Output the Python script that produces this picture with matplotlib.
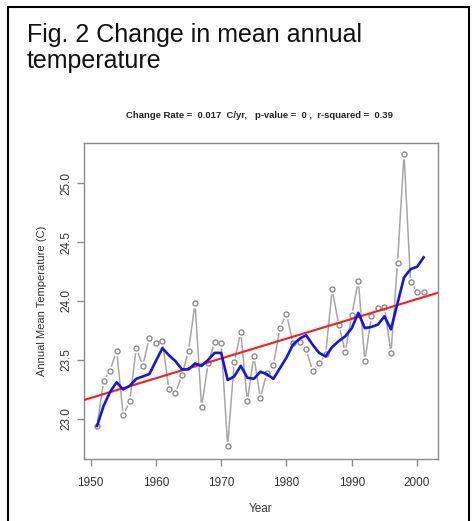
import numpy as np
import matplotlib
matplotlib.use("Agg")
import matplotlib.pyplot as plt
from matplotlib.patches import Rectangle

plt.rcParams['font.family'] = ['Liberation Sans', 'DejaVu Sans']

# ---- data ----
years = list(range(1951, 2002))
temps = [22.94, 23.32, 23.41, 23.58, 23.03, 23.15, 23.60, 23.45, 23.69, 23.64,
         23.66, 23.25, 23.22, 23.37, 23.58, 23.98, 23.10, 23.47, 23.65, 23.64,
         22.77, 23.48, 23.74, 23.15, 23.53, 23.18, 23.39, 23.46, 23.77, 23.89,
         23.64, 23.65, 23.59, 23.41, 23.47, 23.55, 24.10, 23.80, 23.57, 23.88,
         24.17, 23.49, 23.87, 23.94, 23.95, 23.56, 24.32, 25.25, 24.16, 24.08,
         24.08]
smooth = [22.94, 23.11, 23.23, 23.31, 23.25, 23.28, 23.34, 23.36, 23.38, 23.49,
          23.60, 23.54, 23.49, 23.42, 23.42, 23.47, 23.45, 23.50, 23.56, 23.56,
          23.33, 23.36, 23.45, 23.35, 23.34, 23.40, 23.38, 23.34, 23.43, 23.52,
          23.63, 23.68, 23.71, 23.63, 23.56, 23.53, 23.61, 23.66, 23.70, 23.77,
          23.90, 23.77, 23.78, 23.80, 23.87, 23.76, 23.98, 24.20, 24.27, 24.29,
          24.37]
trend_years = [1949, 2003.2]
trend_vals = [23.16, 24.07]
xticks = [1950, 1960, 1970, 1980, 1990, 2000]
yticks = [23.0, 23.5, 24.0, 24.5, 25.0]

title_lines = ["Fig. 2 Change in mean annual", "temperature"]
subtitle = "Change Rate =  0.017  C/yr,   p-value =  0 ,  r-squared =  0.39"

fig = plt.figure(figsize=(4.76, 5.21), dpi=100)
ax = fig.add_axes([84 / 476, 62 / 521, 354 / 476, 316 / 521])

ax.plot(years, temps, color='#a6a6a6', lw=1.1, zorder=1)
ax.plot(years, temps, 'o', ms=7.0, mfc='white', mec='white', mew=0, zorder=2)
ax.plot(years, temps, 'o', ms=3.6, mfc='white', mec='#8c8c8c', mew=1.0, zorder=3)
ax.plot(trend_years, trend_vals, color='#ff1a1a', lw=1.5, zorder=4)
ax.plot(years, smooth, color='#1414e6', lw=1.9, zorder=5, solid_joinstyle='round')

ax.set_xlim(1949, 2003.2)
ax.set_ylim(22.66, 25.34)
ax.set_xticks(xticks)
ax.set_xticklabels([str(v) for v in xticks])
ax.set_yticks(yticks)
ax.set_yticklabels([f"{v:.1f}" for v in yticks], rotation=90, va='center')
for s in ax.spines.values():
    s.set_color('#8a8a8a')
    s.set_linewidth(1.0)
ax.tick_params(axis='both', colors='#8a8a8a', labelcolor='#333333', length=5,
               width=1.0, labelsize=8.5)
ax.tick_params(axis='x', pad=8)
ax.tick_params(axis='y', pad=3)
ax.set_xlabel("Year", fontsize=8.5, color='#333333', labelpad=10)
ax.set_ylabel("Annual Mean Temperature (C)", fontsize=8, color='#333333', labelpad=10)

fig.text(259 / 476, 1 - 115 / 521, subtitle, ha='center', va='center',
         fontsize=6.8, fontweight='bold', color='#222222')
fig.text(27 / 476, 1 - 42 / 521, title_lines[0], ha='left', va='baseline',
         fontsize=18, color='#111111')
fig.text(27 / 476, 1 - 68 / 521, title_lines[1], ha='left', va='baseline',
         fontsize=18, color='#111111')

fig.patches.append(Rectangle((8 / 476, -0.02), 461 / 476, 1.02 - 7 / 521,
                             transform=fig.transFigure, fill=False,
                             edgecolor='black', lw=1.5))

fig.savefig('out.png', dpi=100)
